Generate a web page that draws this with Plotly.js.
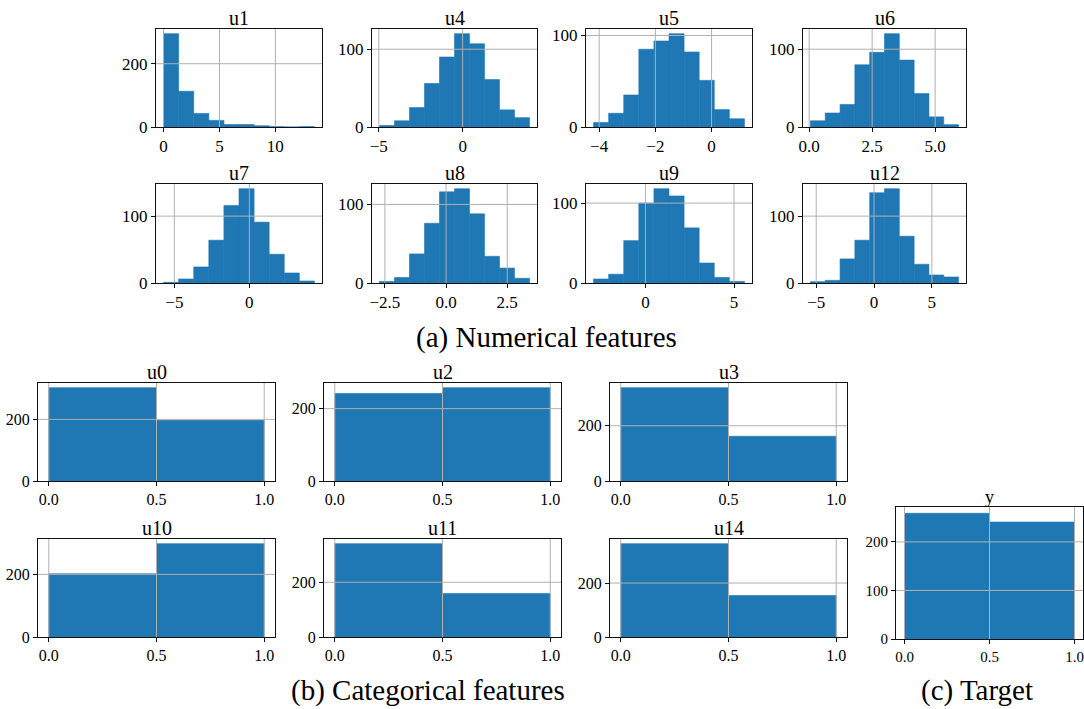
<!DOCTYPE html>
<html><head><meta charset="utf-8">
<script src="https://cdn.plot.ly/plotly-3.0.1.min.js"></script>
<style>html,body{margin:0;padding:0;background:#fff}#chart{width:1084px;height:709px}</style>
</head><body><div id="chart"></div>
<script>
// ---------- data: numerical features (10 bins each) ----------
const u1Counts  = [295, 113, 43, 21, 8, 8, 4, 1, 0, 1];
const u1Range   = [0.0, 13.5];
const u4Counts  = [2, 8, 25, 56, 90, 120, 107, 61, 22, 12];
const u4Range   = [-4.96, 3.99];
const u5Counts  = [5, 15, 35, 85, 94, 102, 82, 51, 19, 9];
const u5Range   = [-4.2, 1.17];
const u6Counts  = [8, 18, 29, 80, 96, 120, 86, 43, 13, 3];
const u6Range   = [0.05, 5.93];
const u7Counts  = [1, 6, 24, 64, 116, 141, 91, 43, 15, 3];
const u7Range   = [-5.72, 4.34];
const u8Counts  = [2, 7, 37, 76, 116, 120, 88, 34, 19, 6];
const u8Range   = [-2.72, 3.41];
const u9Counts  = [5, 11, 53, 100, 118, 109, 69, 25, 7, 2];
const u9Range   = [-2.93, 5.59];
const u12Counts = [2, 4, 36, 64, 135, 141, 70, 28, 12, 9];
const u12Range  = [-5.5, 7.31];

// ---------- data: categorical features and target (2 bins on [0,1]) ----------
const catRange  = [0, 1];
const u0Counts  = [303, 197];
const u2Counts  = [242, 258];
const u3Counts  = [338, 162];
const u10Counts = [202, 298];
const u11Counts = [341, 159];
const u14Counts = [346, 154];
const yCounts   = [259, 241];

// ---------- tick labels ----------
const u1XTicks = [0, 5, 10];          const u1XLabels = ['0', '5', '10'];
const u4XTicks = [-5, 0];             const u4XLabels = ['\u22125', '0'];
const u5XTicks = [-4, -2, 0];         const u5XLabels = ['\u22124', '\u22122', '0'];
const u6XTicks = [0, 2.5, 5];         const u6XLabels = ['0.0', '2.5', '5.0'];
const u7XTicks = [-5, 0];             const u7XLabels = ['\u22125', '0'];
const u8XTicks = [-2.5, 0, 2.5];      const u8XLabels = ['\u22122.5', '0.0', '2.5'];
const u9XTicks = [0, 5];              const u9XLabels = ['0', '5'];
const u12XTicks = [-5, 0, 5];         const u12XLabels = ['\u22125', '0', '5'];
const catXTicks = [0, 0.5, 1];        const catXLabels = ['0.0', '0.5', '1.0'];
const yTicks200 = [0, 200];
const yTicks100 = [0, 100];
const yTicksTarget = [0, 100, 200];

const captions = ['(a) Numerical features', '(b) Categorical features', '(c) Target'];

// ---------- panels (layout boxes in pixels: left, right, top, bottom) ----------
const W = 1084, H = 709;
const panels = [
  {t:'u1',  c:u1Counts,  r:u1Range,  xt:u1XTicks,  xl:u1XLabels,  yt:yTicks200, box:[156,322,29,127], fs:17},
  {t:'u4',  c:u4Counts,  r:u4Range,  xt:u4XTicks,  xl:u4XLabels,  yt:yTicks100, box:[372,537,29,127], fs:17},
  {t:'u5',  c:u5Counts,  r:u5Range,  xt:u5XTicks,  xl:u5XLabels,  yt:yTicks100, box:[586,752,29,127], fs:17},
  {t:'u6',  c:u6Counts,  r:u6Range,  xt:u6XTicks,  xl:u6XLabels,  yt:yTicks100, box:[803,966,29,127], fs:17},
  {t:'u7',  c:u7Counts,  r:u7Range,  xt:u7XTicks,  xl:u7XLabels,  yt:yTicks100, box:[156,322,184,283], fs:17},
  {t:'u8',  c:u8Counts,  r:u8Range,  xt:u8XTicks,  xl:u8XLabels,  yt:yTicks100, box:[372,537,184,283], fs:17},
  {t:'u9',  c:u9Counts,  r:u9Range,  xt:u9XTicks,  xl:u9XLabels,  yt:yTicks100, box:[586,752,184,283], fs:17},
  {t:'u12', c:u12Counts, r:u12Range, xt:u12XTicks, xl:u12XLabels, yt:yTicks100, box:[803,966,184,283], fs:17},
  {t:'u0',  c:u0Counts,  r:catRange, xt:catXTicks, xl:catXLabels, yt:yTicks200, box:[38,275,383,481], fs:16},
  {t:'u2',  c:u2Counts,  r:catRange, xt:catXTicks, xl:catXLabels, yt:yTicks200, box:[324,561,383,481], fs:16},
  {t:'u3',  c:u3Counts,  r:catRange, xt:catXTicks, xl:catXLabels, yt:yTicks200, box:[610,847,383,481], fs:16},
  {t:'u10', c:u10Counts, r:catRange, xt:catXTicks, xl:catXLabels, yt:yTicks200, box:[38,275,539,637], fs:16},
  {t:'u11', c:u11Counts, r:catRange, xt:catXTicks, xl:catXLabels, yt:yTicks200, box:[324,561,539,637], fs:16},
  {t:'u14', c:u14Counts, r:catRange, xt:catXTicks, xl:catXLabels, yt:yTicks200, box:[610,847,539,637], fs:16},
  {t:'y',   c:yCounts,   r:catRange, xt:catXTicks, xl:catXLabels, yt:yTicksTarget, box:[896,1083,507,639], fs:15}
];

const FONT = 'Liberation Serif, DejaVu Serif, serif';
const BAR = '#1f77b4';
const GRID = '#b0b0b0';
const data = [];
const layout = {
  width: W, height: H,
  margin: {l:0, r:0, t:0, b:0},
  paper_bgcolor: '#fff', plot_bgcolor: '#fff',
  font: {family: FONT, color: '#000', size: 17},
  showlegend: false,
  shapes: [], annotations: []
};

panels.forEach((p, i) => {
  const k = i + 1;
  const xa = 'x' + k, ya = 'y' + k;
  const n = p.c.length;
  const w = (p.r[1] - p.r[0]) / n;
  const centers = p.c.map((_, j) => p.r[0] + (j + 0.5) * w);
  data.push({
    type: 'bar', x: centers, y: p.c, width: Array(n).fill(w),
    marker: {color: BAR, line: {width: 0.6, color: BAR}},
    xaxis: xa, yaxis: ya, hoverinfo: 'skip'
  });
  const span = p.r[1] - p.r[0];
  const ymax = Math.max(...p.c);
  const [l, r, t, b] = p.box;
  const axCommon = {
    showgrid: false, zeroline: false, showline: true, linecolor: '#111', linewidth: 1,
    mirror: true, ticks: 'outside', ticklen: 4, tickwidth: 1, tickcolor: '#111',
    tickfont: {family: FONT, size: p.fs, color: '#000'}, fixedrange: true
  };
  layout['xaxis' + k] = Object.assign({}, axCommon, {
    domain: [l / W, r / W], anchor: ya,
    range: [p.r[0] - 0.05 * span, p.r[1] + 0.05 * span],
    tickmode: 'array', tickvals: p.xt, ticktext: p.xl
  });
  layout['yaxis' + k] = Object.assign({}, axCommon, {
    domain: [1 - b / H, 1 - t / H], anchor: xa,
    range: [0, 1.05 * ymax],
    tickmode: 'array', tickvals: p.yt, ticktext: p.yt.map(String)
  });
  // grid lines drawn above bars (matplotlib style)
  p.xt.forEach(v => layout.shapes.push({
    type: 'line', layer: 'above', xref: xa, yref: ya + ' domain',
    x0: v, x1: v, y0: 0, y1: 1, line: {color: GRID, width: 1}
  }));
  p.yt.filter(v => v !== 0).forEach(v => layout.shapes.push({
    type: 'line', layer: 'above', xref: xa + ' domain', yref: ya,
    x0: 0, x1: 1, y0: v, y1: v, line: {color: GRID, width: 1}
  }));
  layout.annotations.push({
    text: p.t, showarrow: false, xref: xa + ' domain', yref: ya + ' domain',
    x: 0.5, y: 1, xanchor: 'center', yanchor: 'bottom', yshift: -2,
    font: {family: FONT, size: p.t === 'y' ? 18 : 20, color: '#000'}
  });
});

const capPos = [[546, 338], [428, 690], [977, 690]];
captions.forEach((c, i) => layout.annotations.push({
  text: c, showarrow: false, xref: 'paper', yref: 'paper',
  x: capPos[i][0] / W, y: 1 - capPos[i][1] / H, xanchor: 'center', yanchor: 'middle',
  font: {family: FONT, size: 29, color: '#000'}
}));

Plotly.newPlot('chart', data, layout, {staticPlot: true, displayModeBar: false});
</script>
</body></html>
